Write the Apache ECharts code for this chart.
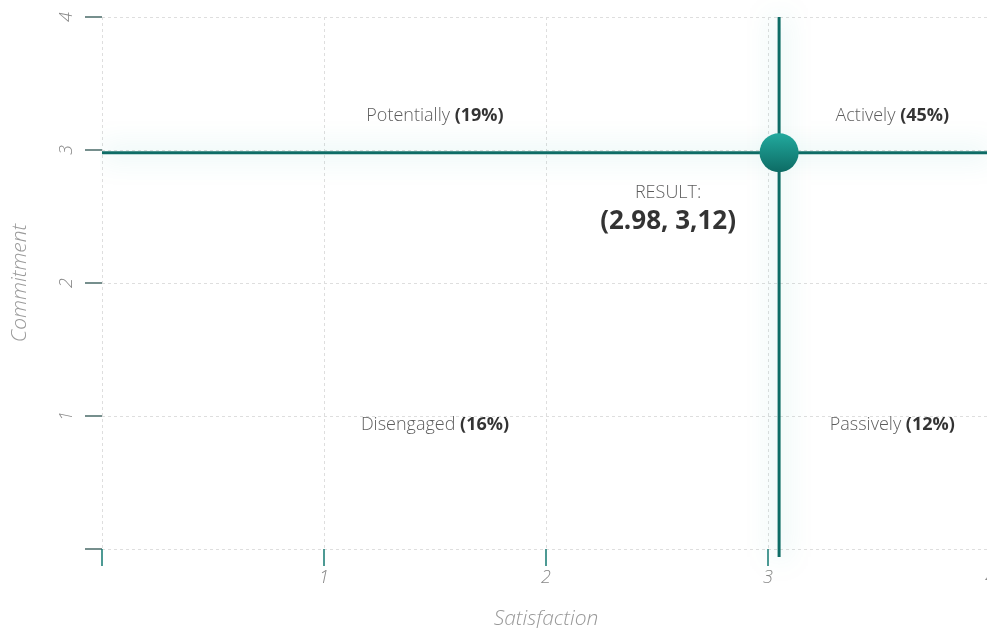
<!DOCTYPE html>
<html>
<head>
<meta charset="utf-8">
<script src="https://cdn.jsdelivr.net/npm/echarts@6/dist/echarts.min.js"></script>
<style>
  html, body { margin: 0; padding: 0; background: #fff; }
  #chart_quadrant { width: 987px; height: 628px; }
</style>
</head>
<body>
<div id="chart_quadrant"></div>
<script>
// Datos del resultado
const xTicks = [0, 1, 2, 3, 4];
const yTicks = [0, 1, 2, 3, 4];
const resultPoint = [3.05, 2.98];
const resultTitle = 'RESULT:';
const resultText = '(2.98, 3,12)';
const resultLabelPos = [[2.55, 2.68], [2.55, 2.46]];

// Cuadrantes
const quadrantNames = ['Potentially', 'Actively', 'Disengaged', 'Passively'];
const quadrantPct = ['19%', '45%', '16%', '12%'];
const quadrantPos = [[1.5, 3.26], [3.56, 3.26], [1.5, 0.93], [3.56, 0.93]];

const teal = '#0e6c66';
const glow = 'rgba(40,175,165,0.5)';
const textFont = '"Open Sans", sans-serif';

let chartEl = document.getElementById('chart_quadrant');
let chart = echarts.init(chartEl);

const quadrantData = quadrantNames.map((n, i) => ({
    value: quadrantPos[i],
    name: n,
    pct: quadrantPct[i]
}));

chart.setOption({
    animation: false,
    grid: { left: 102, right: -3, top: 17, bottom: 79, outerBoundsMode: 'none', containLabel: false },
    xAxis: {
        type: 'value',
        min: xTicks[0],
        max: xTicks[xTicks.length - 1],
        interval: 1,
        name: 'Satisfaction',
        nameLocation: 'middle',
        nameGap: 60,
        nameTextStyle: { color: '#999', fontSize: 21, fontStyle: 'italic', fontFamily: textFont, fontWeight: 300 },
        axisLine: { show: false },
        axisTick: { show: true, length: 17, lineStyle: { color: '#137a72', width: 1.5 } },
        axisLabel: {
            margin: 20, color: '#888', fontSize: 18, fontStyle: 'italic', fontFamily: textFont, fontWeight: 300,
            formatter: v => v === 0 ? '' : v
        },
        splitLine: { show: true, lineStyle: { color: '#dedede', type: [3, 3] } }
    },
    yAxis: {
        type: 'value',
        min: yTicks[0],
        max: yTicks[yTicks.length - 1],
        interval: 1,
        name: 'Commitment',
        nameLocation: 'middle',
        nameRotate: 90,
        nameGap: 71,
        nameTextStyle: { color: '#999', fontSize: 21, fontStyle: 'italic', fontFamily: textFont, fontWeight: 300 },
        axisLine: { show: false },
        axisTick: { show: true, length: 17, lineStyle: { color: '#4a6b68', width: 1.5 } },
        axisLabel: {
            margin: 26, rotate: 90, color: '#888', fontSize: 18, fontStyle: 'italic', fontFamily: textFont, fontWeight: 300,
            formatter: v => v === 0 ? '' : v
        },
        splitLine: { show: true, lineStyle: { color: '#dedede', type: [3, 3] } }
    },
    series: [
        // linea horizontal
        {
            type: 'line',
            data: [[xTicks[0], resultPoint[1]], [xTicks[xTicks.length - 1], resultPoint[1]]],
            symbol: 'none',
            clip: false,
            lineStyle: { color: teal, width: 3, shadowColor: glow, shadowBlur: 26 },
            z: 3
        },
        // linea vertical
        {
            type: 'line',
            data: [[resultPoint[0], -0.06], [resultPoint[0], yTicks[yTicks.length - 1]]],
            symbol: 'none',
            clip: false,
            lineStyle: { color: teal, width: 3, shadowColor: glow, shadowBlur: 26 },
            z: 3
        },
        // punto resultado
        {
            type: 'scatter',
            data: [resultPoint],
            symbolSize: 39,
            itemStyle: {
                opacity: 1,
                color: new echarts.graphic.LinearGradient(0, 0, 0, 1, [
                    { offset: 0, color: '#22aa9e' },
                    { offset: 1, color: '#0d6b64' }
                ])
            },
            z: 5
        },
        // texto del resultado
        {
            type: 'scatter',
            data: [
                { value: resultLabelPos[0], txt: resultTitle, big: false },
                { value: resultLabelPos[1], txt: resultText, big: true }
            ],
            symbolSize: 0,
            silent: true,
            label: {
                show: true,
                position: 'inside',
                formatter: p => p.data.big ? '{b|' + p.data.txt + '}' : '{a|' + p.data.txt + '}',
                rich: {
                    a: { fontSize: 18, color: '#333', fontFamily: textFont, fontWeight: 300 },
                    b: { fontSize: 26, color: '#000', fontFamily: textFont, fontWeight: 'bold' }
                }
            },
            z: 4
        },
        // etiquetas de cuadrantes
        {
            type: 'scatter',
            data: quadrantData,
            symbolSize: 0,
            silent: true,
            label: {
                show: true,
                position: 'inside',
                formatter: p => '{n|' + p.data.name + ' }{p|(' + p.data.pct + ')}',
                rich: {
                    n: { fontSize: 18, color: '#333', fontFamily: textFont, fontWeight: 300 },
                    p: { fontSize: 18, color: '#000', fontFamily: textFont, fontWeight: 'bold' }
                }
            },
            z: 4
        }
    ]
});
</script>
</body>
</html>
